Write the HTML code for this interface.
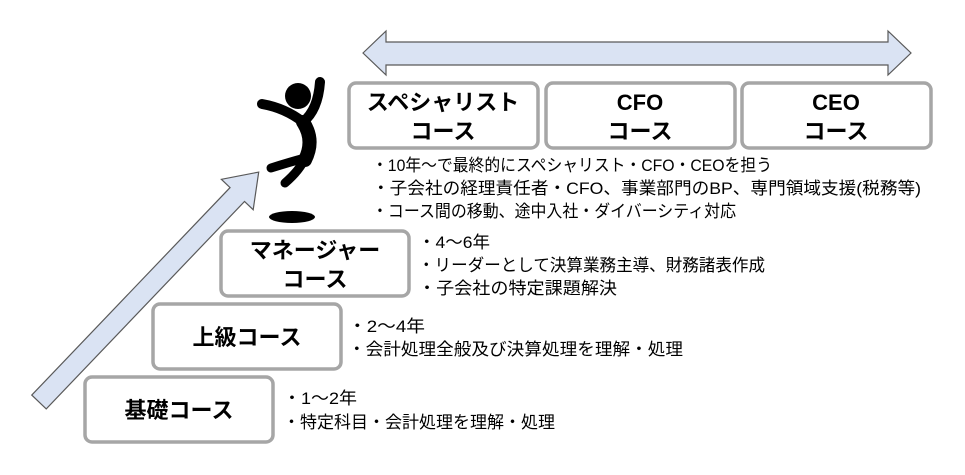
<!DOCTYPE html>
<html><head><meta charset="utf-8"><style>
html,body{margin:0;padding:0;background:#fff;}
svg{display:block;}
.b{font-family:"Liberation Sans","Noto Sans CJK JP",sans-serif;font-weight:bold;font-size:22px;fill:#000;}
.t{font-family:"Liberation Sans","Noto Sans CJK JP",sans-serif;font-size:17px;fill:#000;}
</style></head><body>
<svg width="965" height="475" viewBox="0 0 965 475" xmlns="http://www.w3.org/2000/svg">
<!-- top double arrow -->
<polygon points="363,53 386,31 386,42 888,42 888,31 911,53 888,75 888,65 386,65 386,75" fill="#dae3f3" stroke="#595959" stroke-width="1.2"/>
<!-- diagonal arrow -->
<polygon points="0,-10 287,-10 287,-22 318,0 287,22 287,10 0,10" fill="#dae3f3" stroke="#595959" stroke-width="1.2" transform="translate(39,402) rotate(-46.3)"/>
<!-- boxes -->
<g fill="#fff" stroke="#a6a6a6" stroke-width="3.5">
<rect x="85" y="377" width="188" height="65" rx="7"/>
<rect x="153" y="304" width="188" height="65" rx="7"/>
<rect x="221" y="231" width="188" height="65" rx="7"/>
<rect x="349" y="83" width="189" height="65" rx="7"/>
<rect x="546" y="83" width="189" height="65" rx="7"/>
<rect x="742" y="83" width="189" height="65" rx="7"/>
</g>
<!-- person -->
<g stroke="#000" stroke-linecap="round" stroke-linejoin="round" fill="none">
<circle cx="298" cy="96" r="13" fill="#000" stroke="none"/>
<path d="M262,104 Q285,108 303,122 Q318,110 320,82" stroke-width="10"/>
<path d="M303,122 Q315,140 305,160" stroke-width="14"/>
<path d="M305,158 Q290,162 271,168" stroke-width="9"/>
<path d="M305,158 Q300,170 285,183" stroke-width="9"/>
</g>
<ellipse cx="292" cy="217" rx="23" ry="6" fill="#000"/>
<!-- box labels -->
<text class="b" x="179" y="418" text-anchor="middle">基礎コース</text>
<text class="b" x="247" y="345" text-anchor="middle">上級コース</text>
<text class="b" x="315" y="258" text-anchor="middle">マネージャー</text>
<text class="b" x="315" y="287" text-anchor="middle">コース</text>
<text class="b" x="443" y="110" text-anchor="middle">スペシャリスト</text>
<text class="b" x="443" y="139" text-anchor="middle">コース</text>
<text class="b" x="640" y="110" text-anchor="middle">CFO</text>
<text class="b" x="640" y="139" text-anchor="middle">コース</text>
<text class="b" x="836" y="110" text-anchor="middle">CEO</text>
<text class="b" x="836" y="139" text-anchor="middle">コース</text>
<!-- bullets -->
<text class="t" x="372" y="171" textLength="400" lengthAdjust="spacingAndGlyphs">・10年～で最終的にスペシャリスト・CFO・CEOを担う</text>
<text class="t" x="372" y="194" textLength="549" lengthAdjust="spacingAndGlyphs">・子会社の経理責任者・CFO、事業部門のBP、専門領域支援(税務等)</text>
<text class="t" x="372" y="217" textLength="364" lengthAdjust="spacingAndGlyphs">・コース間の移動、途中入社・ダイバーシティ対応</text>
<text class="t" x="418" y="248" textLength="72" lengthAdjust="spacingAndGlyphs">・4～6年</text>
<text class="t" x="418" y="271" textLength="347" lengthAdjust="spacingAndGlyphs">・リーダーとして決算業務主導、財務諸表作成</text>
<text class="t" x="418" y="294" textLength="199" lengthAdjust="spacingAndGlyphs">・子会社の特定課題解決</text>
<text class="t" x="348" y="332" textLength="77" lengthAdjust="spacingAndGlyphs">・2～4年</text>
<text class="t" x="348" y="355" textLength="335" lengthAdjust="spacingAndGlyphs">・会計処理全般及び決算処理を理解・処理</text>
<text class="t" x="283" y="404" textLength="74" lengthAdjust="spacingAndGlyphs">・1～2年</text>
<text class="t" x="283" y="428" textLength="272" lengthAdjust="spacingAndGlyphs">・特定科目・会計処理を理解・処理</text>
</svg>
</body></html>
